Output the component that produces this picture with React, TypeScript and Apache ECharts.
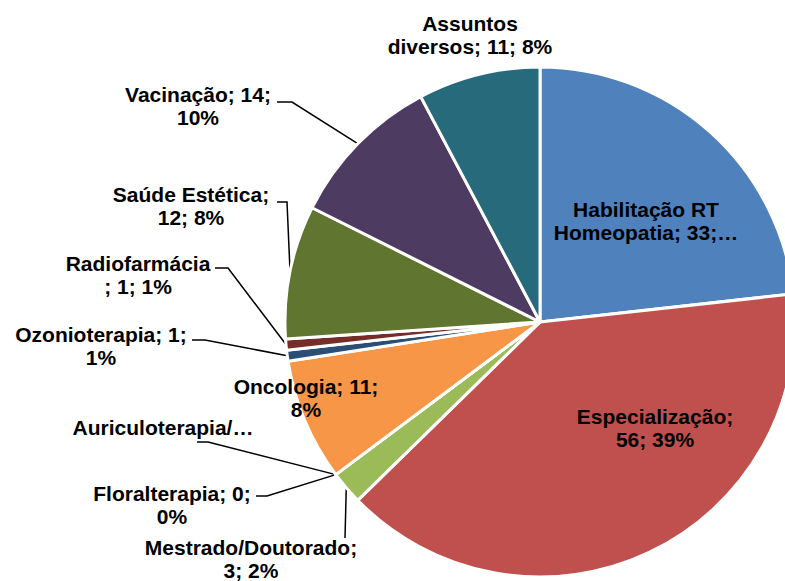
import React, { useEffect, useRef } from "react";
import * as echarts from "echarts";

// ---- data ----
const categories = [
  "Habilitação RT Homeopatia",
  "Especialização",
  "Mestrado/Doutorado",
  "Floralterapia",
  "Auriculoterapia/…",
  "Oncologia",
  "Ozonioterapia",
  "Radiofarmácia",
  "Saúde Estética",
  "Vacinação",
  "Assuntos diversos",
];
const values = [33, 56, 3, 0, 0, 11, 1, 1, 12, 14, 11];
const colors = [
  "#4F81BD",
  "#C0504D",
  "#9BBB59",
  "#8064A2",
  "#4BACC6",
  "#F79646",
  "#2C4D75",
  "#772C2A",
  "#5F7530",
  "#4D3B62",
  "#276A7C",
];
// label text patterns ({n}=name, {v}=value, {p}=percent)
const labelPatterns = [
  "Habilitação RT\nHomeopatia; {v};…",
  "{n};\n{v}; {p}%",
  "{n};\n{v}; {p}%",
  "{n}; {v};\n{p}%",
  "{n}",
  "{n}; {v};\n{p}%",
  "{n}; {v};\n{p}%",
  "{n}\n; {v}; {p}%",
  "{n};\n{v}; {p}%",
  "{n}; {v};\n{p}%",
  "Assuntos\ndiversos; {v}; {p}%",
];

// ---- label layout (positions of label blocks and leader-line bends) ----
type LabelPos = { c: [number, number]; line?: [number, number][] };
const labelLayouts: LabelPos[] = [
  { c: [646, 221] },
  { c: [655, 428] },
  { c: [251, 559], line: [[345, 538], [345, 538]] },
  { c: [172, 505], line: [[267, 496], [256, 496]] },
  { c: [163, 427], line: [[208, 442], [197, 442]] },
  { c: [306, 398] },
  { c: [101, 346], line: [[205, 340], [192, 340]] },
  { c: [138, 275], line: [[228, 268], [215, 268]] },
  { c: [191, 206], line: [[287, 202], [277, 202]] },
  { c: [198, 106], line: [[292, 102], [277, 102]] },
  { c: [470, 35] },
];

const total = values.reduce((a, b) => a + b, 0);

function labelText(i: number): string {
  const pct = Math.round((values[i] / total) * 100);
  return labelPatterns[i]
    .replace("{n}", categories[i])
    .replace("{v}", String(values[i]))
    .replace("{p}", String(pct));
}

export default function App() {
  const ref = useRef<HTMLDivElement>(null);
  useEffect(() => {
    if (!ref.current) return;
    const chart = echarts.init(ref.current, undefined, { renderer: "svg" });
    chart.setOption({
      animation: false,
      backgroundColor: "#ffffff",
      series: [
        {
          type: "pie",
          center: [540, 322],
          radius: 255,
          startAngle: 90,
          clockwise: true,
          avoidLabelOverlap: false,
          itemStyle: { borderColor: "#ffffff", borderWidth: 3 },
          label: {
            show: true,
            position: "outside",
            color: "#000000",
            fontFamily: "Liberation Sans, Arial, sans-serif",
            fontWeight: "bold",
            fontSize: 21,
            lineHeight: 23,
            align: "center",
            formatter: (p: any) => labelText(p.dataIndex),
          },
          labelLine: {
            show: true,
            lineStyle: { color: "#000000", width: 1.5 },
          },
          labelLayout: (params: any) => {
            const lay = labelLayouts[params.dataIndex];
            const res: any = {
              x: lay.c[0],
              y: lay.c[1],
              align: "center",
              verticalAlign: "middle",
            };
            if (lay.line && params.labelLinePoints) {
              const p0 = params.labelLinePoints[0];
              res.labelLinePoints = [[p0[0], p0[1]], ...lay.line.map((p) => [p[0], p[1]])];
            }
            return res;
          },
          data: categories.map((name, i) => ({
            name,
            value: values[i],
            itemStyle: { color: colors[i] },
            labelLine: { show: !!labelLayouts[i].line },
          })),
        },
      ],
    });
    return () => chart.dispose();
  }, []);
  return (
    <div
      ref={ref}
      style={{ position: "absolute", left: 0, top: 0, width: 785, height: 581 }}
    />
  );
}
